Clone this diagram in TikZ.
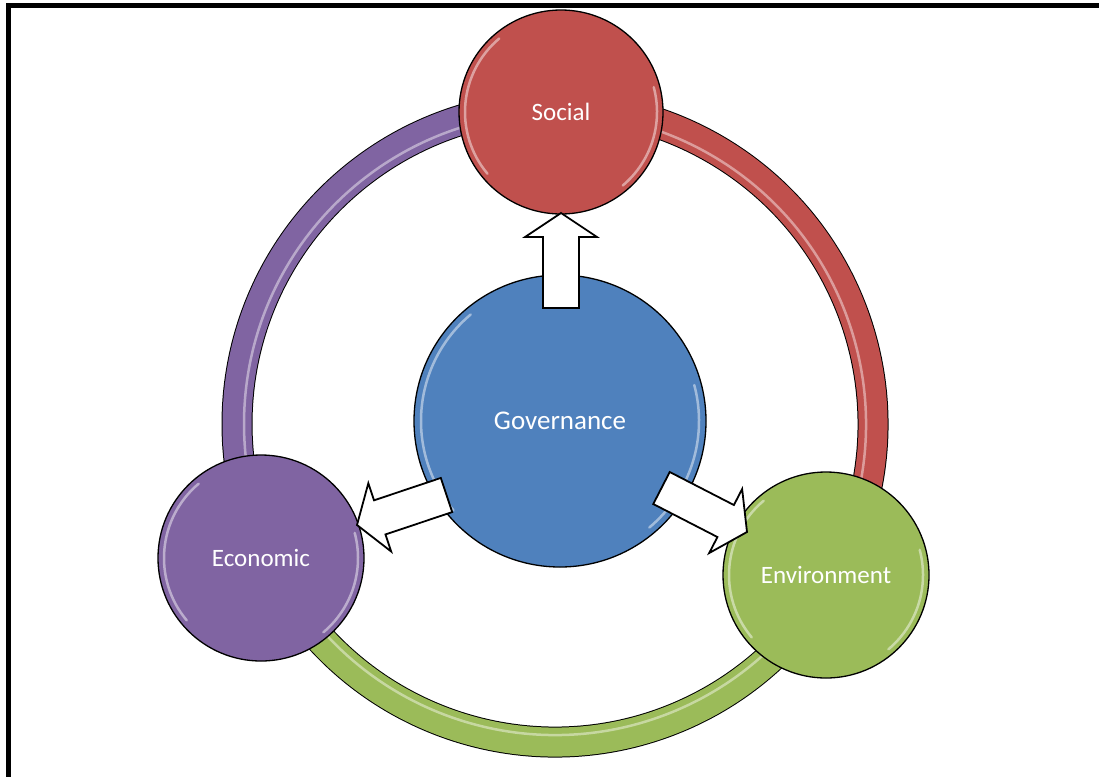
\documentclass[tikz,border=0pt]{standalone}
\usepackage{fontspec}
\setmainfont{Carlito}
\usetikzlibrary{calc}
\definecolor{socc}{HTML}{C0504D}
\definecolor{govc}{HTML}{4F81BD}
\definecolor{ecoc}{HTML}{8064A2}
\definecolor{envc}{HTML}{9BBB59}
\tikzset{
  bubble/.style={circle, draw=black, line width=1.3pt, text=white, inner sep=0pt,
    font=\fontsize{25}{30}\selectfont},
  blockarr/.style={draw=black, fill=white, line width=1.8pt, line join=miter},
  frame/.style={fill=black, draw=none},
}
\newcommand\drawblockarrow[2]{%
  \coordinate (hb) at ($(#2)!24pt!(#1)$);
  \draw[blockarr] ($(#1)!18pt!90:(#2)$) -- ($(hb)!18pt!-90:(#1)$) -- ($(hb)!36pt!-90:(#1)$)
    -- (#2) -- ($(hb)!36pt!90:(#1)$) -- ($(hb)!18pt!90:(#1)$) -- ($(#1)!18pt!-90:(#2)$) -- cycle;}
\newcommand\ringseg[3]{%
  \draw[line width=31pt, black] (ringc) ++(#2:318) arc[start angle=#2, end angle=#3, radius=318];
  \draw[line width=29pt, #1] (ringc) ++(#2:318) arc[start angle=#2, end angle=#3, radius=318];
  \draw[line width=2.5pt, #1!45!white, opacity=.8] (ringc) ++(#2:311) arc[start angle=#2, end angle=#3, radius=311];}
\newcommand\gloss[3]{%
  \draw[line width=2.5pt, #3!45!white, opacity=.85, line cap=round] (#1.center) ++(130:#2) arc[start angle=130, end angle=220, radius=#2];
  \draw[line width=2.5pt, #3!45!white, opacity=.85, line cap=round] (#1.center) ++(-50:#2) arc[start angle=-50, end angle=15, radius=#2];}
\begin{document}
\begin{tikzpicture}[x=1pt, y=1pt]
\useasboundingbox[fill=white] (0,0) rectangle (1099,-777);
% frame (top and left edges)
\fill[frame] (6,-3) rectangle (1099,-7.5);
\fill[frame] (6,-3) rectangle (10.5,-777);
% ring
\coordinate (ringc) at (555,-424);
\ringseg{ecoc}{88.9}{204.5}
\ringseg{socc}{-29.1}{88.9}
\ringseg{envc}{204.5}{330.9}
% nodes
\node[bubble, fill=govc, minimum size=292pt, font=\fontsize{27}{32}\selectfont] (gov) at (560,-421) {Governance};
\node[bubble, fill=socc, minimum size=204pt] (soc) at (561,-112) {Social};
\node[bubble, fill=ecoc, minimum size=206pt] (eco) at (261,-558) {Economic};
\node[bubble, fill=envc, minimum size=206pt] (env) at (826,-575) {Environment};
\gloss{gov}{139}{govc}
\gloss{soc}{96}{socc}
\gloss{eco}{97}{ecoc}
\gloss{env}{97}{envc}
% block arrows
\coordinate (tup) at (561,-308);
\coordinate (pup) at (561,-213);
\coordinate (tle) at (446.5,-495);
\coordinate (ple) at (357,-525);
\coordinate (tri) at (661.5,-488);
\coordinate (pri) at (747,-532);
\drawblockarrow{tup}{pup}
\drawblockarrow{tle}{ple}
\drawblockarrow{tri}{pri}
\end{tikzpicture}
\end{document}
